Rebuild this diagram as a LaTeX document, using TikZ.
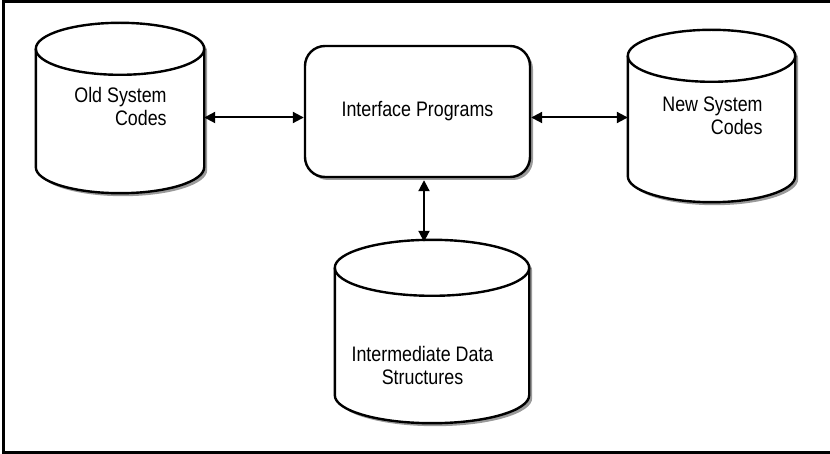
\documentclass[tikz,border=0pt]{standalone}
\usepackage{fontspec}
\usepackage{tikz}
\usetikzlibrary{arrows.meta,shadows,calc}
\newfontfamily\diafont[FakeStretch=0.85]{Liberation Sans}
\definecolor{ink}{HTML}{000000}
\definecolor{shade}{HTML}{9A9A9A}
\tikzset{
  shadowed/.style={drop shadow={shadow xshift=3pt, shadow yshift=-3pt, fill=shade, opacity=1}},
  slot/.style={inner sep=0pt},
  drum/.style={draw=ink, line width=2.4pt, fill=white},
  proc/.style={draw=ink, line width=2.4pt, fill=white, shadowed, rectangle, rounded corners=20pt, inner sep=0pt},
  txt/.style={font=\diafont\fontsize{21}{23}\selectfont, text=ink, align=#1, inner sep=0pt},
  txt/.default=center,
  dbl/.style={{Triangle[length=11pt,width=11pt]}-{Triangle[length=11pt,width=11pt]}, line width=2pt, draw=ink},
  frame/.style={draw=ink, line width=2.8pt},
}
% cylinder drawn over a named slot node: #1 node, #2 half height of the end ellipse
\newcommand{\drum}[2]{%
  \path let \p1=(#1.north west), \p2=(#1.south east), \n1={(\x2-\x1)/2} in
    [drum, shadowed] (\x1,\y1-#2) -- (\x1,\y2+#2)
      arc[start angle=180, end angle=360, x radius=\n1, y radius=#2]
      -- (\x2,\y1-#2)
      arc[start angle=0, end angle=180, x radius=\n1, y radius=#2] -- cycle;
  \path let \p1=(#1.north west), \p2=(#1.south east), \n1={(\x2-\x1)/2} in
    [draw=ink, line width=2.4pt] (\x1,\y1-#2)
      arc[start angle=180, end angle=360, x radius=\n1, y radius=#2];
}
\begin{document}
\begin{tikzpicture}[x=1pt, y=-1pt]
  \useasboundingbox (0,0) rectangle (830,454);
  \draw[frame] (3.8,1.5) rectangle (845,452.3);

  % stores and the program box
  \node[slot, minimum width=168pt, minimum height=170pt] (olddb) at (120,108) {};
  \node[slot, minimum width=167pt, minimum height=172pt] (newdb) at (711.5,116) {};
  \node[slot, minimum width=194pt, minimum height=183pt] (middb) at (432,331.5) {};
  \drum{olddb}{26pt}
  \drum{newdb}{26pt}
  \drum{middb}{28pt}
  \node[proc, minimum width=225pt, minimum height=131pt] (iface) at (417.5,111.5) {};

  \node[txt=right] (oldtxt) at (120.5,106) {Old System\\Codes};
  \node[txt=right] (newtxt) at (712.5,115.5) {New System\\Codes};
  \node[txt] (midtxt) at (422.5,365.5) {Intermediate Data\\Structures};
  \node[txt] (ifacetxt) at (iface.center) {Interface Programs};

  % links
  \draw[dbl] ([yshift=-9.5pt]olddb.east) -- ([yshift=-6pt]iface.west);
  \draw[dbl] ([yshift=-6pt]iface.east) -- ([yshift=-1.5pt]newdb.west);
  \draw[dbl] ([xshift=6.5pt, yshift=-2pt]iface.south) -- ([xshift=6.5pt, yshift=-2pt]iface.south |- middb.north);
\end{tikzpicture}
\end{document}
